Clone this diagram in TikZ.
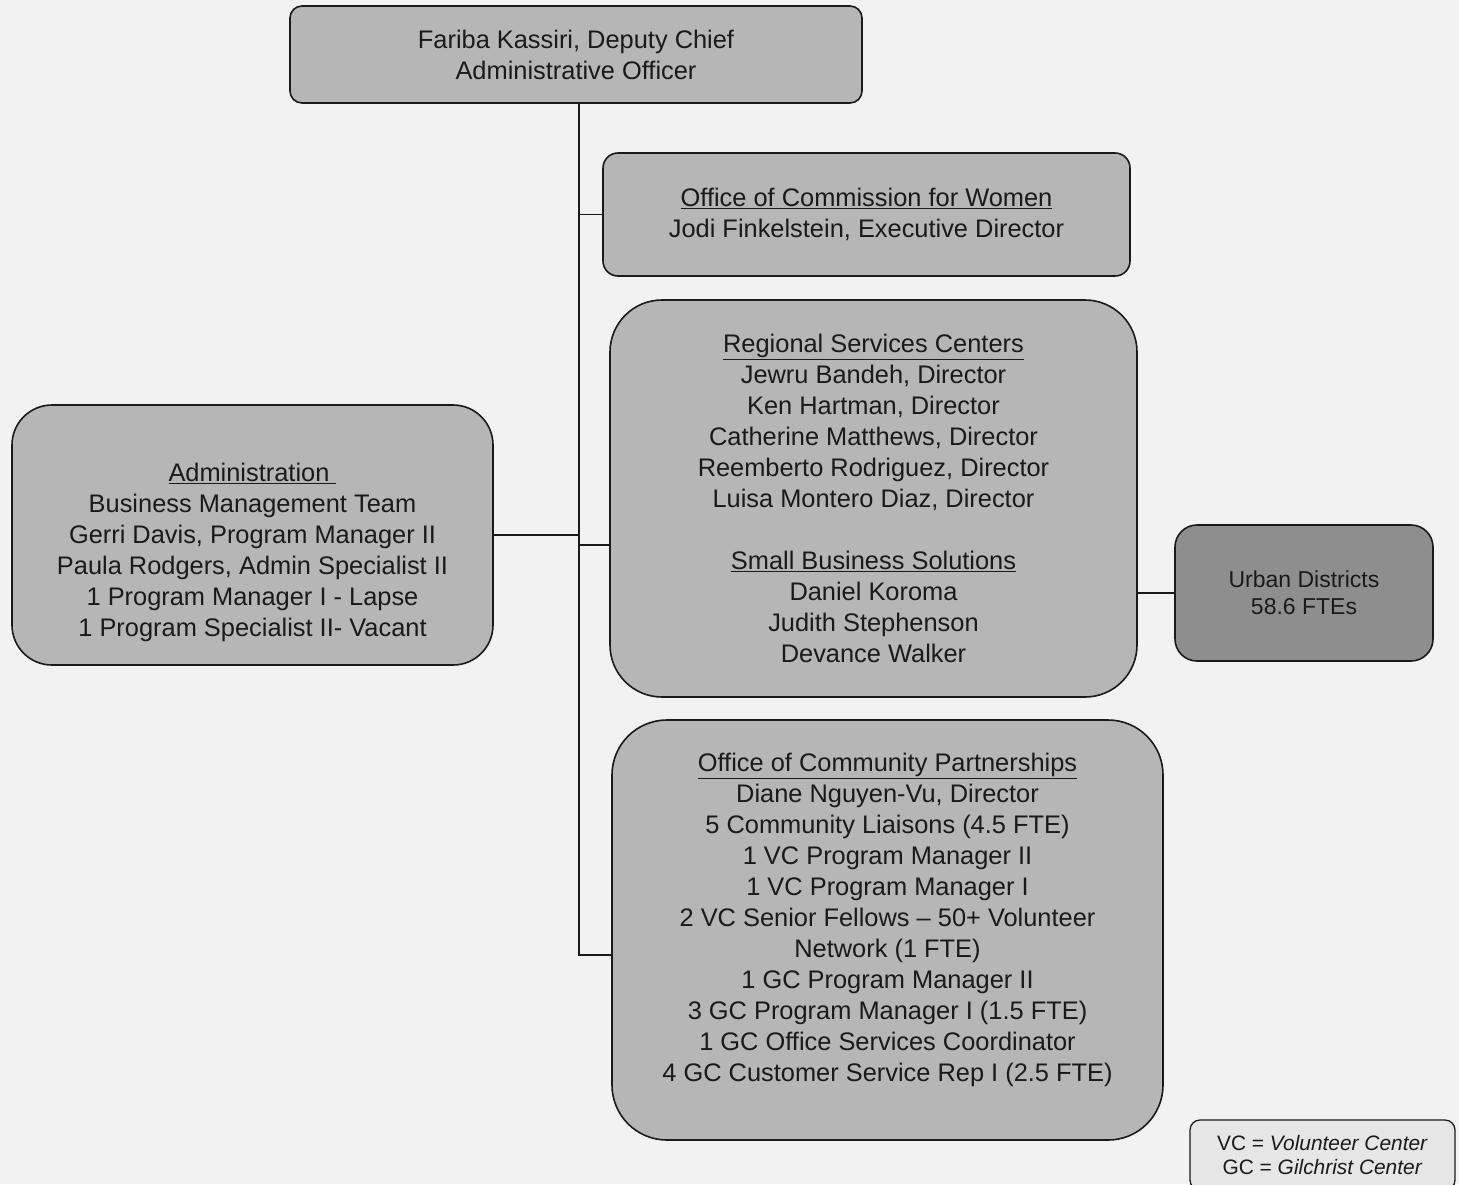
\documentclass[tikz,border=0pt]{standalone}
\usepackage{fontspec}
\setmainfont{Liberation Sans}
\usepackage{tikz}
\usetikzlibrary{calc}
\usetikzlibrary{positioning}
\definecolor{paper}{HTML}{F2F2F2}
\definecolor{boxgrey}{HTML}{B6B6B6}
\definecolor{darkgrey}{HTML}{8E8E8E}
\definecolor{keygrey}{HTML}{E6E6E6}
\definecolor{ink}{HTML}{1A1A1A}
\begin{document}
\begin{tikzpicture}[x=1pt,y=-1pt,
  box/.style={draw=ink,line width=1.6pt,fill=boxgrey,rounded corners=#1,inner sep=0pt},
  box/.default=14pt,
  txt/.style={align=center,text=ink,font=\fontsize{25.4}{31}\selectfont},
  link/.style={draw=ink,line width=1.7pt}]

\useasboundingbox [fill=paper] (0,0) rectangle (1459,1184);

\node [box=12pt,txt,minimum width=572pt,minimum height=97pt] (chief) at (576,54.5)
  {Fariba Kassiri, Deputy Chief\\Administrative Officer};
\node [box=15pt,txt,minimum width=527pt,minimum height=123pt] (women) at (866.5,214.5)
  {\underline{Office of Commission for Women}\\Jodi Finkelstein, Executive Director};
\node [box=52pt,txt,minimum width=527pt,minimum height=397pt] (regional) at (873.5,498.5)
  {\underline{Regional Services Centers}\\Jewru Bandeh, Director\\Ken Hartman, Director\\
   Catherine Matthews, Director\\Reemberto Rodriguez, Director\\Luisa Montero Diaz, Director\\[31pt]
   \underline{Small Business Solutions}\\Daniel Koroma\\Judith Stephenson\\Devance Walker};
\node [box=40pt,minimum width=481pt,minimum height=260pt] (admin) at (252.5,535) {};
\node [txt] (admintext) at (252.5,552)
  {\underline{Administration\ }\\Business Management Team\\Gerri Davis, Program Manager II\\
   Paula Rodgers, Admin Specialist II\\1 Program Manager I - Lapse\\1 Program Specialist II- Vacant};
\node [box=22pt,fill=darkgrey,txt,font=\fontsize{23}{27}\selectfont,
  minimum width=258pt,minimum height=136pt] (urban) at (1304,593)
  {Urban Districts\\58.6 FTEs};
\node [box=55pt,minimum width=551pt,minimum height=420pt] (community) at (887.5,930) {};
\node [txt] (communitytext) at (887.5,920)
  {\underline{Office of Community Partnerships}\\Diane Nguyen-Vu, Director\\
   5 Community Liaisons (4.5 FTE)\\1 VC Program Manager II\\1 VC Program Manager I\\
   2 VC Senior Fellows -- 50+ Volunteer\\Network (1 FTE)\\1 GC Program Manager II\\
   3 GC Program Manager I (1.5 FTE)\\1 GC Office Services Coordinator\\
   4 GC Customer Service Rep I (2.5 FTE)};
\node [box=10pt,fill=keygrey,line width=1.3pt,txt,font=\fontsize{20.9}{24}\selectfont,
  minimum width=265pt,minimum height=70pt] (key) at (1322.5,1155)
  {VC = \textit{Volunteer Center}\\GC = \textit{Gilchrist Center}};

% trunk and branches
\coordinate (trunkend) at (579,955);
\coordinate (regjoin) at (579,545);
\draw [link] (chief.south -| trunkend) -- (trunkend) -- (community.west |- trunkend);
\draw [link] (women.west) -- (women.west -| trunkend);
\draw [link] (regjoin) -- (regional.west |- regjoin);
\draw [link] (admin.east) -- (admin.east -| trunkend);
\draw [link] (regional.east |- urban.west) -- (urban.west);

\end{tikzpicture}
\end{document}
